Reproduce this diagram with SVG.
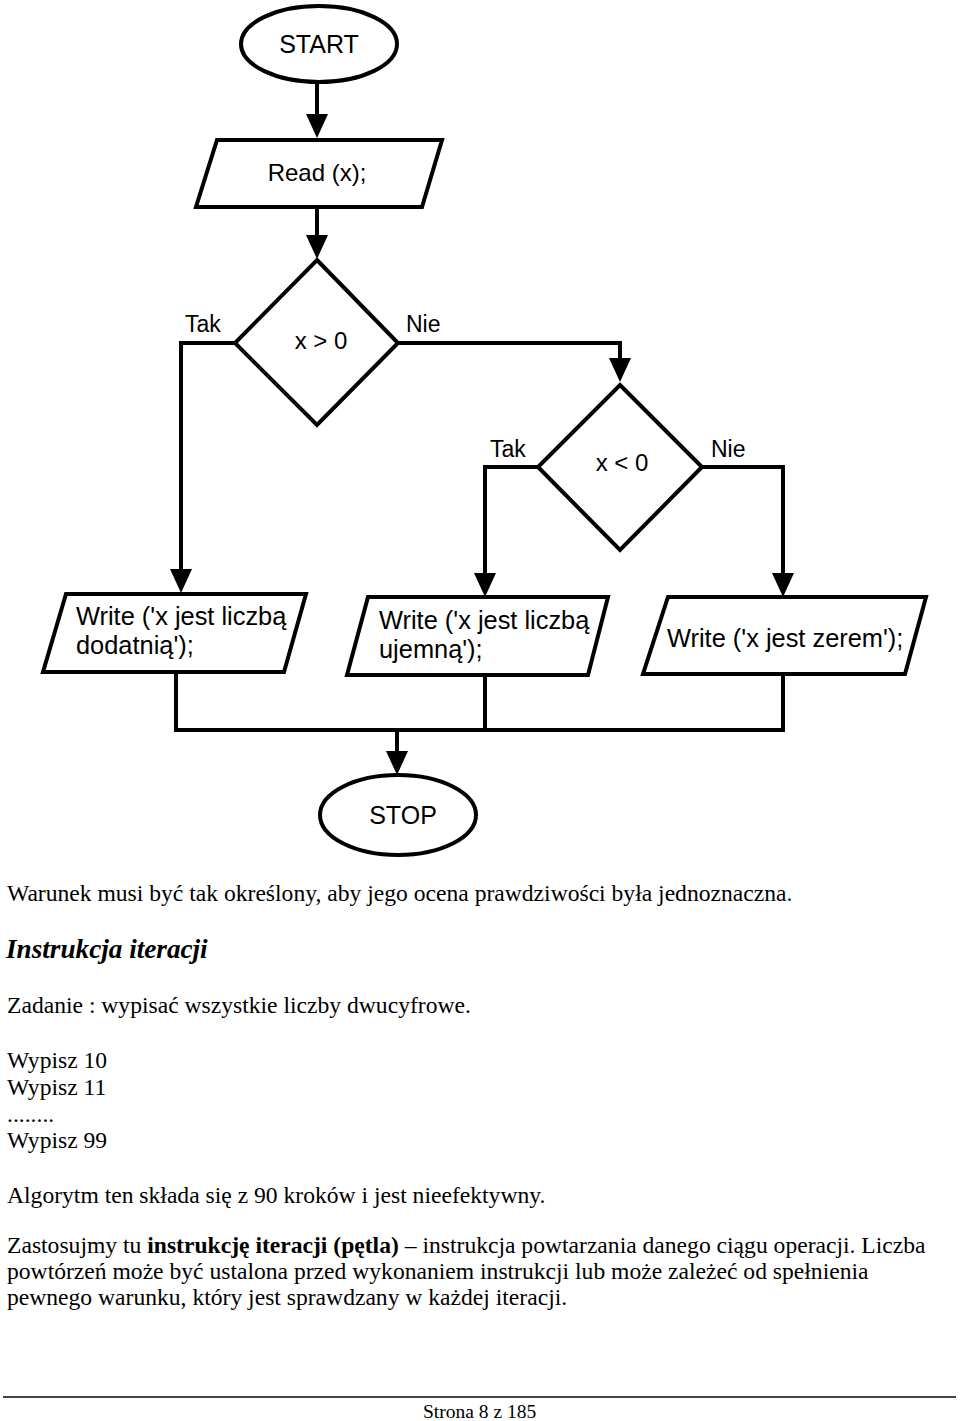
<svg xmlns="http://www.w3.org/2000/svg" width="960" height="1421" viewBox="0 0 960 1421">
<style>
.shape{fill:#fff;stroke:#000;stroke-width:4;stroke-linejoin:miter}
.conn{fill:none;stroke:#000;stroke-width:4}
.lbl{font-family:"Liberation Sans",Arial,sans-serif;fill:#000}
.body{font-family:"Liberation Serif","Times New Roman",serif;fill:#000}
</style>
<defs>
<marker id="ah" markerUnits="userSpaceOnUse" viewBox="0 0 24 22" refX="2" refY="11" markerWidth="24" markerHeight="22" orient="auto">
<path d="M0,0 L24,11 L0,22 z" fill="#000"/>
</marker>
</defs>
<rect width="960" height="1421" fill="#fff"/>

<g id="connectors">
<path class="conn" d="M317,83 V116" marker-end="url(#ah)"/>
<path class="conn" d="M317,207 V237" marker-end="url(#ah)"/>
<path class="conn" d="M398,343 H620 V360" marker-end="url(#ah)"/>
<path class="conn" d="M235,343 H181 V571" marker-end="url(#ah)"/>
<path class="conn" d="M538,467 H485 V575" marker-end="url(#ah)"/>
<path class="conn" d="M702,467 H783 V575" marker-end="url(#ah)"/>
<path class="conn" d="M176,672 V730 H783 V674"/>
<path class="conn" d="M485,675 V730"/>
<path class="conn" d="M397,730 V753" marker-end="url(#ah)"/>
</g>

<g id="start">
<ellipse class="shape" cx="319" cy="44" rx="78" ry="38"/>
<text class="lbl" x="319" y="53" font-size="25" text-anchor="middle">START</text>
</g>

<g id="read">
<polygon class="shape" points="217,140 442,140 422,207 196,207"/>
<text class="lbl" x="317" y="181" font-size="24" text-anchor="middle">Read (x);</text>
</g>

<g id="cond1">
<polygon class="shape" points="317,260 398,343 317,425 235,343"/>
<text class="lbl" x="321" y="349" font-size="24" text-anchor="middle">x &gt; 0</text>
<text class="lbl" x="185" y="332" font-size="23">Tak</text>
<text class="lbl" x="406" y="332" font-size="23">Nie</text>
</g>

<g id="cond2">
<polygon class="shape" points="620,385 702,467 620,550 538,467"/>
<text class="lbl" x="622" y="471" font-size="24" text-anchor="middle">x &lt; 0</text>
<text class="lbl" x="490" y="457" font-size="23">Tak</text>
<text class="lbl" x="711" y="457" font-size="23">Nie</text>
</g>

<g id="write-pos">
<polygon class="shape" points="66,594 306,594 284,672 43,672"/>
<text class="lbl" x="76" y="625" font-size="25.4">Write ('x jest liczbą</text>
<text class="lbl" x="76" y="654" font-size="25.4">dodatnią');</text>
</g>

<g id="write-neg">
<polygon class="shape" points="368,597 608,597 588,675 347,675"/>
<text class="lbl" x="379" y="629" font-size="25.4">Write ('x jest liczbą</text>
<text class="lbl" x="379" y="658" font-size="25.4">ujemną');</text>
</g>

<g id="write-zero">
<polygon class="shape" points="668,597 926,597 905,674 643,674"/>
<text class="lbl" x="667" y="647" font-size="25.4">Write ('x jest zerem');</text>
</g>

<g id="stop">
<ellipse class="shape" cx="398" cy="815" rx="78" ry="40"/>
<text class="lbl" x="403" y="824" font-size="25" text-anchor="middle">STOP</text>
</g>

<g id="text" font-size="23.6">
<text class="body" x="7" y="901">Warunek musi być tak określony, aby jego ocena prawdziwości była jednoznaczna.</text>
<text class="body" x="6" y="958" font-size="27.2" font-weight="bold" font-style="italic">Instrukcja iteracji</text>
<text class="body" x="7" y="1013">Zadanie : wypisać wszystkie liczby dwucyfrowe.</text>
<text class="body" x="7" y="1068">Wypisz 10</text>
<text class="body" x="7" y="1095">Wypisz 11</text>
<text class="body" x="7" y="1122">........</text>
<text class="body" x="7" y="1148">Wypisz 99</text>
<text class="body" x="7" y="1203">Algorytm ten składa się z 90 kroków i jest nieefektywny.</text>
<text class="body" x="7" y="1253">Zastosujmy tu <tspan font-weight="bold">instrukcję iteracji (pętla)</tspan> – instrukcja powtarzania danego ciągu operacji. Liczba</text>
<text class="body" x="7" y="1279">powtórzeń może być ustalona przed wykonaniem instrukcji lub może zależeć od spełnienia</text>
<text class="body" x="7" y="1305">pewnego warunku, który jest sprawdzany w każdej iteracji.</text>
<line x1="3" y1="1397" x2="956" y2="1397" stroke="#444" stroke-width="2"/>
<text class="body" x="423" y="1418" font-size="19.5">Strona 8 z 185</text>
</g>
</svg>
